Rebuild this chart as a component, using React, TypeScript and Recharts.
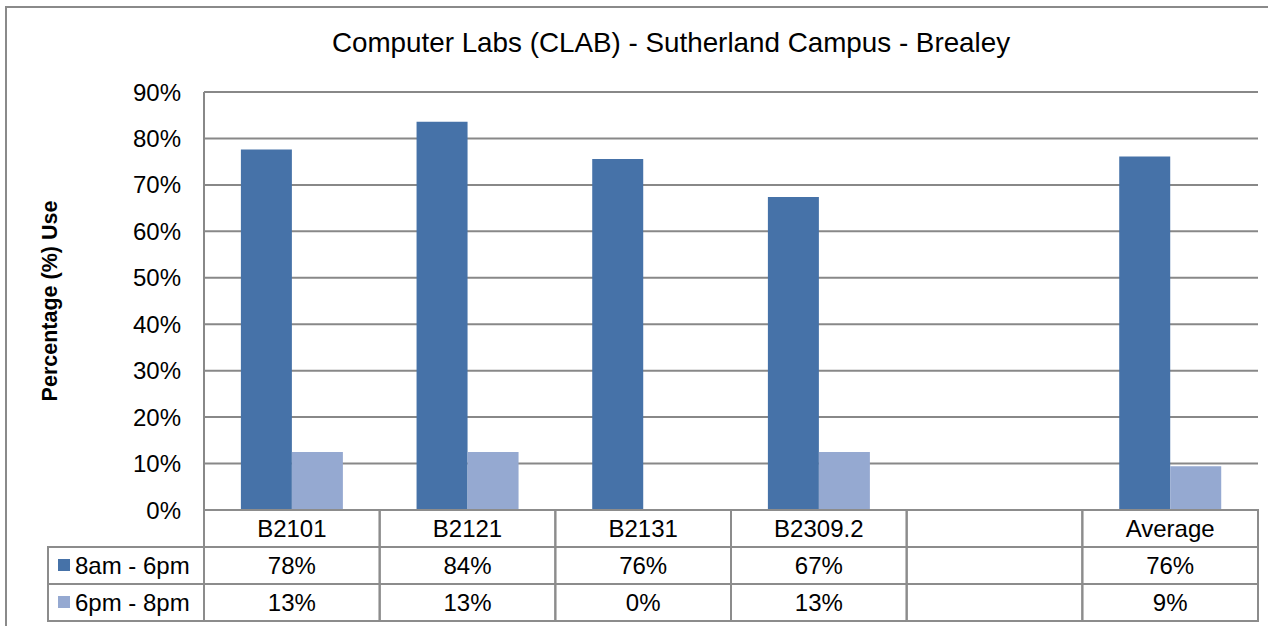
import { Bar, BarChart, CartesianGrid, XAxis, YAxis } from 'recharts';

// Room names along the x axis; the blank slot is a spacer column in the original sheet.
const labs = ['B2101', 'B2121', 'B2131', 'B2309.2', '', 'Average'];
// % use per room, daytime and evening sessions.
const dayUse = [77.6, 83.6, 75.6, 67.4, null, 76.1];
const eveUse = [12.5, 12.5, 0, 12.5, null, 9.4];
const yTicks = [0, 10, 20, 30, 40, 50, 60, 70, 80, 90];

const series = [
  { key: 'day', name: '8am - 6pm', color: '#4672A8' },
  { key: 'eve', name: '6pm - 8pm', color: '#95A9D1' },
];

const data = labs.map((name, i) => ({ name, day: dayUse[i], eve: eveUse[i] }));

const W = 1268;
const H = 626;
const Y_AXIS_W = 204;
const RIGHT = 10;
const TOP = 92;
const TABLE_H = 116;
const FONT = '"Liberation Sans", Arial, sans-serif';
const LINE = '#8c8c8c';
const ROW_H = 37;
const LEGEND_W = 156;

const cellW = (W - Y_AXIS_W - RIGHT) / labs.length;

const pct = (v: number | null) => (v == null ? '' : `${Math.round(v)}%`);

// Each x tick draws its own column of the data table underneath the plot.
function TableTick(props: any) {
  const { x, y, payload } = props;
  const i = payload.index;
  const x0 = x - cellW / 2;
  const rows = [labs[i], pct(dayUse[i]), pct(eveUse[i])];
  return (
    <g>
      {rows.map((t, r) => (
        <g key={r}>
          <rect x={x0} y={y + r * ROW_H} width={cellW} height={ROW_H} fill="none" stroke={LINE} strokeWidth={2} />
          <text
            x={x}
            y={y + r * ROW_H + ROW_H / 2 + 8}
            textAnchor="middle"
            fontSize={24}
            fontFamily={FONT}
            fill="#000"
          >
            {t}
          </text>
        </g>
      ))}
      {i === 0 &&
        series.map((s, r) => {
          const ry = y + (r + 1) * ROW_H;
          const lx = x0 - LEGEND_W;
          return (
            <g key={s.key}>
              <rect x={lx} y={ry} width={LEGEND_W} height={ROW_H} fill="none" stroke={LINE} strokeWidth={2} />
              <rect x={lx + 10} y={ry + 12} width={12} height={12} fill={s.color} />
              <text x={lx + 27} y={ry + ROW_H / 2 + 8} fontSize={24} fontFamily={FONT} fill="#000">
                {s.name}
              </text>
            </g>
          );
        })}
    </g>
  );
}

export default function App() {
  return (
    <div style={{ position: 'absolute', left: 0, top: 0, width: W, height: H, overflow: 'hidden', background: '#fff' }}>
      <div
        style={{
          position: 'absolute',
          left: 5,
          top: 6,
          width: W,
          height: H + 10,
          border: '2px solid #8a8a8a',
        }}
      />
      <div
        style={{
          position: 'absolute',
          left: 671,
          top: 28,
          transform: 'translateX(-50%)',
          whiteSpace: 'nowrap',
          fontFamily: FONT,
          fontSize: 27.8,
          lineHeight: '30px',
          color: '#000',
        }}
      >
        Computer Labs (CLAB) - Sutherland Campus - Brealey
      </div>
      <div
        style={{
          position: 'absolute',
          left: 50,
          top: 301,
          transform: 'translate(-50%, -50%) rotate(-90deg)',
          whiteSpace: 'nowrap',
          fontFamily: FONT,
          fontSize: 21.5,
          fontWeight: 'bold',
          color: '#000',
        }}
      >
        Percentage (%) Use
      </div>
      <BarChart
        width={W}
        height={H}
        data={data}
        margin={{ top: TOP, right: RIGHT, bottom: 0, left: 0 }}
        barCategoryGap="21%"
        barGap={0}
        style={{ position: 'absolute', left: 0, top: 0 }}
      >
        <CartesianGrid horizontal vertical={false} stroke="#888" strokeWidth={2} />
        <XAxis
          dataKey="name"
          height={TABLE_H}
          axisLine={false}
          tickLine={false}
          tickSize={0}
          tickMargin={0}
          interval={0}
          tick={<TableTick />}
        />
        <YAxis
          width={Y_AXIS_W}
          domain={[0, 90]}
          ticks={yTicks}
          tickFormatter={(v) => `${v}%`}
          axisLine={{ stroke: '#888', strokeWidth: 2 }}
          tickLine={false}
          tickSize={0}
          tickMargin={23}
          tick={{ fontSize: 24, fill: '#000', fontFamily: FONT }}
        />
        {series.map((s) => (
          <Bar key={s.key} dataKey={s.key} name={s.name} fill={s.color} isAnimationActive={false} />
        ))}
      </BarChart>
    </div>
  );
}
